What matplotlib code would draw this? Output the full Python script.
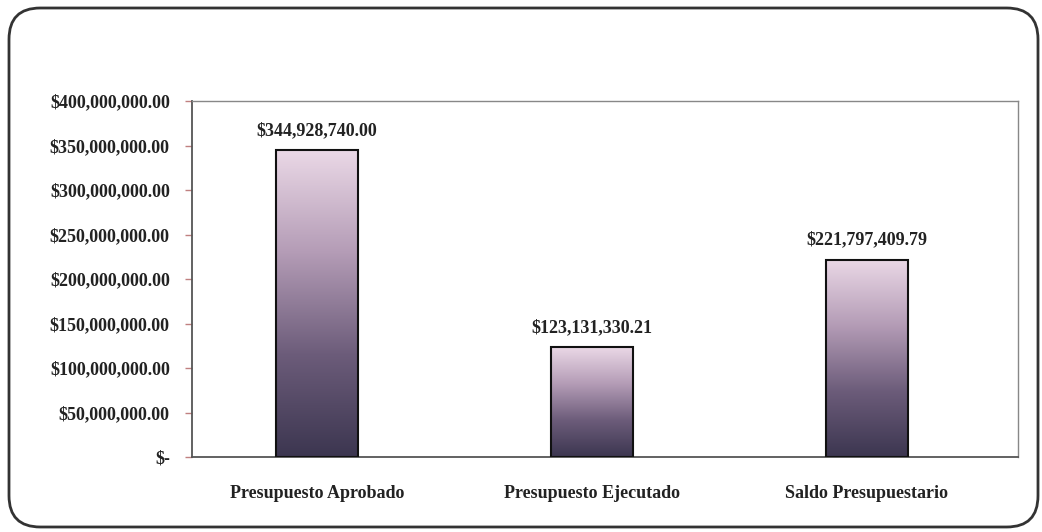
import numpy as np
import matplotlib.pyplot as plt
from matplotlib.patches import FancyBboxPatch
from matplotlib.ticker import FuncFormatter
from matplotlib.colors import LinearSegmentedColormap

categories = ['Presupuesto Aprobado', 'Presupuesto Ejecutado', 'Saldo Presupuestario']
values = [344928740.00, 123131330.21, 221797409.79]
yticks = [0, 50e6, 100e6, 150e6, 200e6, 250e6, 300e6, 350e6, 400e6]

plt.rcParams['font.family'] = ['Liberation Serif', 'DejaVu Serif']
plt.rcParams['font.weight'] = 'bold'

fig = plt.figure(figsize=(10.42, 5.32), dpi=100)
ax = fig.add_axes([192 / 1042, 1 - 457 / 532, (1018 - 192) / 1042, (457 - 101) / 532])

# rounded outer frame
frame = FancyBboxPatch((9 / 1042, 5 / 532), 1029 / 1042, 519 / 532,
                       boxstyle='round,pad=0,rounding_size=0.03',
                       transform=fig.transFigure, fill=False,
                       edgecolor='#333333', linewidth=2, mutation_aspect=1042 / 532)
fig.patches.append(frame)

# gradient pink (top) to dark purple (bottom)
cmap = LinearSegmentedColormap.from_list('bars', ['#3c3650', '#6c5c7a', '#b49cb6', '#ead8e6'])
grad = np.linspace(0, 1, 256).reshape(-1, 1)

width = 0.30
x = np.arange(len(categories))
bars = ax.bar(x, values, width=width, facecolor='none', edgecolor='#111111', linewidth=1.5, zorder=3)
for b in bars:
    x0, y0 = b.get_x(), b.get_y()
    h = b.get_height()
    im = ax.imshow(grad, extent=[x0, x0 + b.get_width(), y0, y0 + h], origin='lower',
                   cmap=cmap, aspect='auto', zorder=2)
    im.set_clip_path(b)

for xi, v in zip(x, values):
    ax.annotate(f'${v:,.2f}', (xi, v), xytext=(0, 8), textcoords='offset points',
                ha='center', va='bottom', fontsize=13, fontweight='bold', color='#222222')

ax.set_xlim(-0.455, 2.55)
ax.set_ylim(0, 400e6)
ax.set_yticks(yticks)
ax.yaxis.set_major_formatter(FuncFormatter(lambda v, p: '$-' if v == 0 else f'${v:,.2f}'))
ax.set_xticks(x)
ax.set_xticklabels(categories)
ax.tick_params(axis='x', length=0, pad=20, labelsize=13, colors='#222222')
ax.tick_params(axis='y', length=5, width=1, pad=11, labelsize=13, colors='#222222', direction='out')
ax.tick_params(axis='y', color='#c08080')

for s in ['top', 'right']:
    ax.spines[s].set_color('#888888')
    ax.spines[s].set_linewidth(1)
for s in ['left', 'bottom']:
    ax.spines[s].set_color('#555555')
    ax.spines[s].set_linewidth(1.3)

plt.savefig('out.png', dpi=100)
